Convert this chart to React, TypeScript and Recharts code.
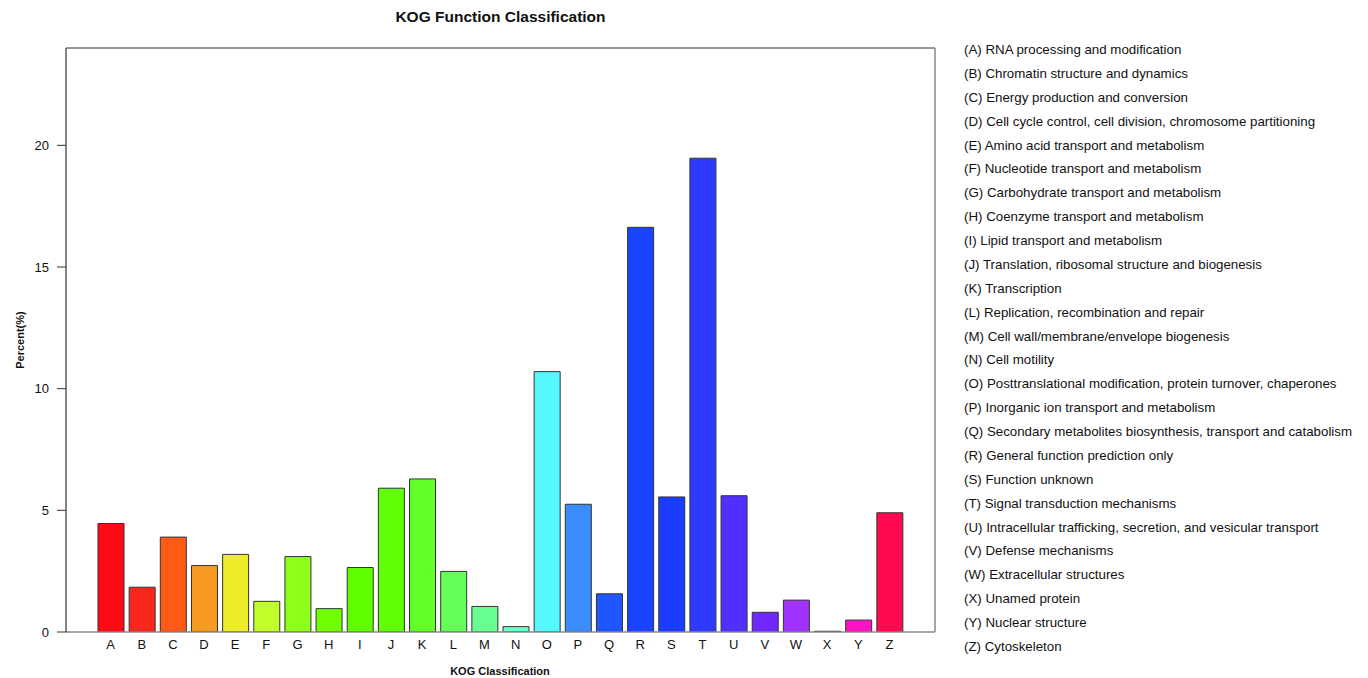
import { BarChart, Bar, XAxis, YAxis, Cell, CartesianGrid } from 'recharts';

const CATEGORIES = ['A', 'B', 'C', 'D', 'E', 'F', 'G', 'H', 'I', 'J', 'K', 'L', 'M', 'N', 'O', 'P', 'Q', 'R', 'S', 'T', 'U', 'V', 'W', 'X', 'Y', 'Z'];

const PERCENTS = [4.46, 1.84, 3.9, 2.73, 3.19, 1.26, 3.1, 0.96, 2.65, 5.91, 6.29, 2.49, 1.05, 0.22, 10.7, 5.25, 1.57, 16.63, 5.55, 19.47, 5.6, 0.81, 1.31, 0.03, 0.49, 4.9];

const DESCRIPTIONS = [
  'RNA processing and modification',
  'Chromatin structure and dynamics',
  'Energy production and conversion',
  'Cell cycle control, cell division, chromosome partitioning',
  'Amino acid transport and metabolism',
  'Nucleotide transport and metabolism',
  'Carbohydrate transport and metabolism',
  'Coenzyme transport and metabolism',
  'Lipid transport and metabolism',
  'Translation, ribosomal structure and biogenesis',
  'Transcription',
  'Replication, recombination and repair',
  'Cell wall/membrane/envelope biogenesis',
  'Cell motility',
  'Posttranslational modification, protein turnover, chaperones',
  'Inorganic ion transport and metabolism',
  'Secondary metabolites biosynthesis, transport and catabolism',
  'General function prediction only',
  'Function unknown',
  'Signal transduction mechanisms',
  'Intracellular trafficking, secretion, and vesicular transport',
  'Defense mechanisms',
  'Extracellular structures',
  'Unamed protein',
  'Nuclear structure',
  'Cytoskeleton',
];

const Y_TICKS = [0, 5, 10, 15, 20];

const COLORS = [
  '#ff0a14', '#fa281c', '#ff5a16', '#f89a20', '#eeec28', '#c2ff2a', '#8eff18', '#70ff00', '#60ff00',
  '#60ff08', '#62ff2a', '#66ff5a', '#66ff90', '#72ffc8', '#55f8ff', '#3a8cff', '#2056ff', '#1a44ff',
  '#1a3cff', '#2e3aff', '#5030ff', '#7028ff', '#a232ff', '#222222', '#ff12c8', '#ff0a50',
];

const FONT = '"Liberation Sans", Arial, Helvetica, sans-serif';

// box edges (top / right) taken from the plot offset
const topEdge = ({ offset }: any) => [offset.top];
const rightEdge = ({ offset }: any) => [offset.left + offset.width];

export default function App() {
  const data = CATEGORIES.map((name, i) => ({ name, value: PERCENTS[i] }));

  return (
    <div style={{ position: 'absolute', left: 0, top: 0, width: 1368, height: 678, background: '#fff', fontFamily: FONT }}>
      <div style={{ position: 'absolute', left: 300, width: 401, top: 8, textAlign: 'center', fontWeight: 'bold', fontSize: 15.5, color: '#111' }}>
        KOG Function Classification
      </div>

      <BarChart
        width={1368}
        height={678}
        data={data}
        margin={{ top: 48, right: 433, bottom: 16, left: 16 }}
      >
        <CartesianGrid vertical={false} horizontalCoordinatesGenerator={topEdge} stroke="#333" strokeWidth={1.2} />
        <CartesianGrid horizontal={false} verticalCoordinatesGenerator={rightEdge} stroke="#888" strokeWidth={1.5} />
        <XAxis
          dataKey="name"
          interval={0}
          tickLine={false}
          axisLine={{ stroke: '#888', strokeWidth: 1.5 }}
          padding={{ left: 29, right: 30 }}
          height={30}
          tick={{ fill: '#111', fontSize: 13, fontFamily: FONT }}
        />
        <YAxis
          domain={[0, 24]}
          ticks={Y_TICKS}
          allowDataOverflow
          width={50}
          tickSize={9}
          tickMargin={8}
          tickLine={{ stroke: '#333' }}
          axisLine={{ stroke: '#333', strokeWidth: 1.2 }}
          tick={{ fill: '#111', fontSize: 13, fontFamily: FONT }}
        />
        <Bar dataKey="value" barSize={26} stroke="#333" strokeWidth={1} isAnimationActive={false}>
          {data.map((d, i) => (
            <Cell key={d.name} fill={COLORS[i]} />
          ))}
        </Bar>
      </BarChart>

      <div style={{ position: 'absolute', left: 440, width: 120, top: 665, textAlign: 'center', fontWeight: 'bold', fontSize: 11, color: '#111' }}>
        KOG Classification
      </div>
      <div style={{ position: 'absolute', left: 20, top: 340, transform: 'translate(-50%, -50%) rotate(-90deg)', fontWeight: 'bold', fontSize: 11, color: '#111', whiteSpace: 'nowrap' }}>
        Percent(%)
      </div>

      <div style={{ position: 'absolute', left: 964, top: 38 }}>
        {CATEGORIES.map((c, i) => (
          <div key={c} style={{ height: 23.88, lineHeight: '23.88px', fontSize: 13.3, color: '#111', whiteSpace: 'nowrap' }}>
            ({c}) {DESCRIPTIONS[i]}
          </div>
        ))}
      </div>
    </div>
  );
}
